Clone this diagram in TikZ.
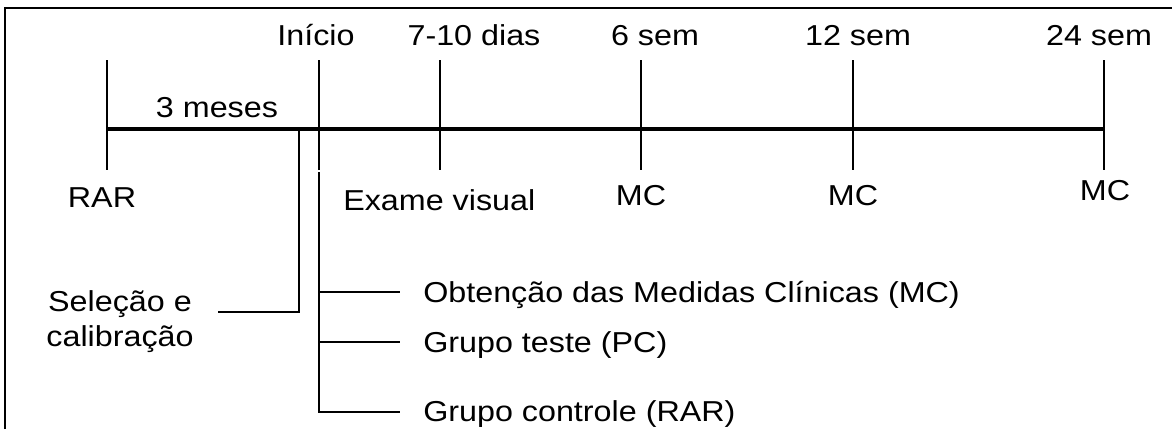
\documentclass[tikz,border=0pt]{standalone}
\usepackage{fontspec}
\setmainfont{Liberation Sans}[FakeStretch=1.12]
\usetikzlibrary{positioning}

\begin{document}
\begin{tikzpicture}[
    x=0.025cm,
    y=-0.025cm,
    frame/.style={
        line width=1.4pt,
    },
    timeline/.style={
        line width=2.3pt,
    },
    tickline/.style={
        line width=1.4pt,
    },
    bracket/.style={
        line width=1.4pt,
    },
    txt/.style={
        font=\fontsize{20.5}{24.8}\selectfont,
        inner sep=0pt,
        anchor=base,
    }
]
    \useasboundingbox (0,0) rectangle (1172,429);

    % Frame
    \draw[frame] (5,429) -- (5,8) -- (1172,8);

    % Timeline
    \coordinate (rar) at (107,129);
    \coordinate (inicio) at (319,129);
    \coordinate (dias) at (440,129);
    \coordinate (sem6) at (641,129);
    \coordinate (sem12) at (853,129);
    \coordinate (sem24) at (1104,129);
    \draw[timeline] (rar) -- (sem24);
    \foreach \p in {rar, inicio, dias, sem6, sem12, sem24}
        \draw[tickline] (\p) ++(0,-69) -- ++(0,110);

    % Labels above
    \node[txt] (lblInicio) at (316,45) {Início};
    \node[txt] (lblDias) at (474,45) {7-10 dias};
    \node[txt] (lblSem6) at (655,45) {6 sem};
    \node[txt] (lblSem12) at (858,45) {12 sem};
    \node[txt] (lblSem24) at (1099,45) {24 sem};
    \node[txt] (lblMeses) at (217,117) {3 meses};

    % Labels below
    \node[txt] (lblRar) at (102,207) {RAR};
    \node[txt, anchor=base west] (lblExame) at (343,210) {Exame visual};
    \node[txt] (lblMc6) at (641,205) {MC};
    \node[txt] (lblMc12) at (853,205) {MC};
    \node[txt] (lblMc24) at (1105,200) {MC};

    % Selection and calibration
    \coordinate (sel) at (299,129);
    \coordinate (selEnd) at (218,312);
    \node[txt, align=center] (lblSelecao) at (120,346) {Seleção e\\calibração};
    \draw[bracket] (sel) |- (selEnd);

    % Groups
    \coordinate (brTop) at (319,172);
    \coordinate (obtEnd) at (400,292);
    \coordinate (testeEnd) at (400,342);
    \coordinate (ctrlEnd) at (400,412);
    \node[txt, anchor=base west] (lblObt) at (423,302) {Obtenção das Medidas Clínicas (MC)};
    \node[txt, anchor=base west] (lblTeste) at (423,352) {Grupo teste (PC)};
    \node[txt, anchor=base west] (lblCtrl) at (423,421) {Grupo controle (RAR)};
    \draw[bracket] (brTop) |- (ctrlEnd);
    \draw[bracket] (brTop |- obtEnd) -- (obtEnd);
    \draw[bracket] (brTop |- testeEnd) -- (testeEnd);
\end{tikzpicture}
\end{document}
